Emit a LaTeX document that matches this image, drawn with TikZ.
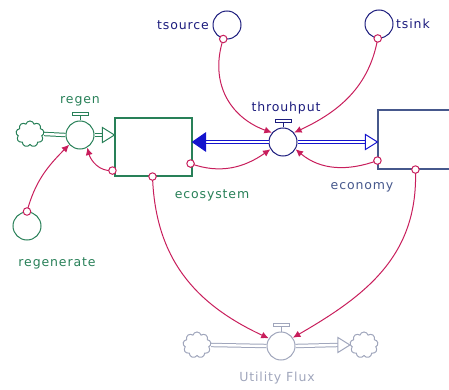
\documentclass[tikz,border=0pt]{standalone}
\usepackage{fontspec}
\setmainfont{DejaVu Sans}[LetterSpace=7]
\usetikzlibrary{arrows.meta,shapes.symbols,calc}
\definecolor{ecoG}{RGB}{40,128,88}
\definecolor{navyT}{RGB}{28,28,125}
\definecolor{flowB}{RGB}{20,20,205}
\definecolor{econS}{RGB}{70,88,140}
\definecolor{grayU}{RGB}{160,166,188}
\definecolor{crim}{RGB}{200,30,92}
\begin{document}
\begin{tikzpicture}[x=1pt,y=-1pt,
  lbl/.style={font=\fontsize{12.5}{15}\selectfont, inner sep=0pt},
  valve/.style={circle, draw, fill=white, minimum size=28pt, inner sep=0pt, line width=1pt},
  conv/.style={circle, draw, minimum size=28pt, inner sep=0pt, line width=1pt},
  cloudy/.style={cloud, cloud puffs=9, draw, minimum width=28pt, minimum height=26pt, aspect=1, inner sep=0pt, line width=1pt},
  stockbox/.style={rectangle, draw, fill=white, inner sep=0pt, line width=1.1pt},
  pipe/.style={double=white, double distance=2.4pt, line width=1pt},
  conn/.style={draw=crim, line width=1pt, -{Latex[length=7.5pt,width=7pt]}},
  dot/.style={circle, draw=crim, fill=white, line width=1pt, minimum size=7.5pt, inner sep=0pt}
]
\useasboundingbox (0,0) rectangle (449,390);
\clip (0,0) rectangle (449,390);

% stocks
\node[stockbox, draw=ecoG, minimum width=77pt, minimum height=58pt] (eco) at (153.5,147) {};
\node[stockbox, draw=econS, minimum width=84pt, minimum height=59pt] (econ) at (420,139.5) {};

% valves
\node[valve, draw=ecoG] (regen) at (80,135) {};
\node[valve, draw=navyT] (thr) at (283,142) {};
\node[valve, draw=grayU] (ufv) at (281,346) {};

% clouds
\node[cloudy, draw=ecoG] (cloudA) at (30,134) {};
\node[cloudy, draw=grayU] (cloudB) at (197,345) {};
\node[cloudy, draw=grayU] (cloudC) at (364,345) {};

% converters
\node[conv, draw=navyT] (tsource) at (227,25) {};
\node[conv, draw=navyT] (tsink) at (379,24) {};
\node[conv, draw=ecoG] (regenerate) at (27,226) {};

% labels
\node[lbl, text=ecoG] (lregen) at (80,101) {regen};
\node[lbl, text=ecoG] (leco) at (212,195) {ecosystem};
\node[lbl, text=navyT] (lthr) at (286,108) {throuhput};
\node[lbl, text=econS] (lecon) at (362,187) {economy};
\node[lbl, text=navyT, anchor=east] (ltsource) at (209,25) {tsource};
\node[lbl, text=navyT, anchor=west] (ltsink) at (396,24) {tsink};
\node[lbl, text=ecoG] (lregenerate) at (57,263) {regenerate};
\node[lbl, text=grayU] (luf) at (277,378) {Utility Flux};

% flow pipes: regen
\coordinate (ecoIn) at ($(eco.west|-regen.center)$);
\draw[pipe, draw=ecoG] (cloudA.east) -- (regen.west);
\draw[pipe, draw=ecoG] (regen.east) -- ($(ecoIn)+(-12,0)$);
\draw[ecoG, fill=white, line width=1pt] (ecoIn) -- ++(-12,-7.5) -- ++(0,15) -- cycle;

% flow pipes: throughput
\coordinate (ecoOut) at ($(eco.east|-thr.center)$);
\coordinate (econIn) at ($(econ.west|-thr.center)$);
\draw[pipe, draw=flowB] (thr.west) -- ($(ecoOut)+(12,0)$);
\draw[flowB, fill=flowB, line width=1pt] (ecoOut) -- ++(13,-9) -- ++(0,18) -- cycle;
\draw[pipe, draw=flowB] (thr.east) -- ($(econIn)+(-12,0)$);
\draw[flowB, fill=white, line width=1pt] (econIn) -- ++(-12,-7.5) -- ++(0,15) -- cycle;

% flow pipes: utility flux
\draw[pipe, draw=grayU] (cloudB.east) -- (ufv.west);
\draw[pipe, draw=grayU] (ufv.east) -- ($(cloudC.west)+(-12,0)$);
\draw[grayU, fill=white, line width=1pt] (cloudC.west) -- ++(-12,-7.5) -- ++(0,15) -- cycle;

% valve handles
\foreach \v/\c in {regen/ecoG, thr/navyT, ufv/grayU}{
  \draw[\c, line width=1pt] (\v.north) -- ++(0,-5);
  \draw[\c, line width=1pt, fill=white] ($(\v.north)+(-8,-5)$) rectangle ($(\v.north)+(8,-8)$);
}

% connector start points
\coordinate (s1) at (regenerate.north);
\coordinate (s2) at ($(eco.south west)+(-2,-6)$);
\coordinate (s3) at ($(eco.south east)+(-2,-13)$);
\coordinate (s4) at ($(eco.south)+(-1,0)$);
\coordinate (s5) at (tsource.255);
\coordinate (s6) at (tsink.265);
\coordinate (s7) at ($(econ.south west)+(0,-9)$);
\coordinate (s8) at ($(econ.south west)+(38,0)$);

% connectors
\draw[conn] (s1) to[out=75, in=225] (regen.222);
\draw[conn] (s2) to[out=185, in=285] (regen.300);
\draw[conn] (s3) to[out=-20, in=215] (thr.210);
\draw[conn] (s4) to[out=-88, in=155, looseness=1.05] (ufv.148);
\draw[conn] (s5) to[out=-108, in=160, looseness=1.1] (thr.140);
\draw[conn] (s6) to[out=-100, in=25] (thr.40);
\draw[conn] (s7) to[out=200, in=-40] (thr.330);
\draw[conn] (s8) to[out=-88, in=30, looseness=1.05] (ufv.35);

\foreach \s in {s1,s2,s3,s4,s5,s6,s7,s8}{
  \node[dot] at (\s) {};
}
\end{tikzpicture}
\end{document}
